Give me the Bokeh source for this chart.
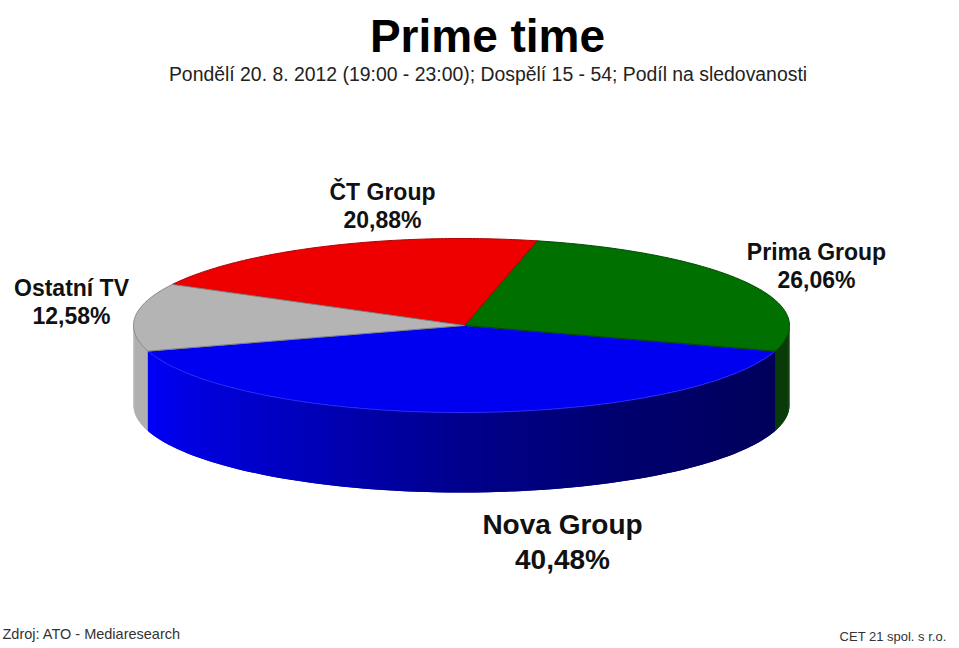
import numpy as np
from bokeh.plotting import figure
from bokeh.models import Range1d
from bokeh.core.properties import value
from bokeh.embed import file_html
from bokeh.resources import INLINE

# --- data ---
categories = ["Nova Group", "Prima Group", "ČT Group", "Ostatní TV"]
shares = [40.48, 26.06, 20.88, 12.58]
share_labels = ["40,48%", "26,06%", "20,88%", "12,58%"]
title = "Prime time"
subtitle = "Pondělí 20. 8. 2012 (19:00 - 23:00); Dospělí 15 - 54; Podíl na sledovanosti"
source_note = "Zdroj: ATO - Mediaresearch"
company_note = "CET 21 spol. s r.o."

# --- style / layout ---
top_colors = ["#0000f0", "#007000", "#ee0000", "#b4b4b4"]
edge_colors = ["#2a2af4", "#004a00", "#b00000", "#808080"]
wall_colors = {1: "#0a3c0a", 3: "#b0b0b0"}
CX, CY, RX, RY, DEPTH = 461.0, 325.0, 328.0, 87.0, 80.0
APEX_X = 464.0
GRAD_T = [180, 200, 240, 270, 300, 330, 345]
GRAD_B = [250, 245, 190, 140, 110, 95, 90]

p = figure(width=959, height=648, output_backend="svg", toolbar_location=None,
           x_range=Range1d(0, 959), y_range=Range1d(648, 0),
           min_border=0, outline_line_color=None, background_fill_color="white")
p.axis.visible = False
p.grid.visible = False

ang = np.array(shares) * 3.6
start = 270 - ang[0] / 2
edges = start + np.concatenate([[0], np.cumsum(ang)])


def pt(t, dy=0.0):
    r = np.radians(t)
    return CX + RX * np.cos(r), CY - RY * np.sin(r) + dy


# side wall: overlapping narrow quads over the visible front half
xs, ys, cols = [], [], []
for t0 in np.arange(180.0, 360.0, 1.0):
    t1 = min(t0 + 2.0, 360.0)
    mid = t0 + 0.5
    m = mid if mid >= edges[0] else mid + 360
    i = int(np.searchsorted(edges, m, side="right") - 1)
    i = min(max(i, 0), 3)
    if i == 0:
        c = "#0000%02x" % int(np.interp(mid, GRAD_T, GRAD_B))
    else:
        c = wall_colors[i]
    x0, y0 = pt(t0)
    x1, y1 = pt(t1)
    xs.append([x0, x1, x1, x0])
    ys.append([y0, y1, y1 + DEPTH, y0 + DEPTH])
    cols.append(c)
p.patches(xs, ys, fill_color=cols, line_color=None)

# top surface wedges
wx, wy = [], []
for i in range(len(shares)):
    tt = np.linspace(edges[i], edges[i + 1], 120)
    ex, ey = pt(tt)
    wx.append([APEX_X] + list(ex))
    wy.append([CY] + list(ey))
p.patches(wx, wy, fill_color=top_colors, line_color=edge_colors, line_width=1)


def label(x, y, txt, size, style="normal", color="#000000", align="center"):
    p.text(x=[x], y=[y], text=[txt], text_font=value("Liberation Sans"),
           text_font_size=size, text_font_style=style, text_color=color,
           text_align=align, text_baseline="middle")


label(487, 35, title, "46px", "bold")
label(487.5, 73, subtitle, "19.4px", "normal", "#222222")

label_pos = [(562, 524, 559, "28px"), (816, 251, 279, "23px"),
             (382, 191, 219, "23px"), (71, 287, 315, "23px")]
for c, s, (lx, y1, y2, fs) in zip(categories, share_labels, label_pos):
    label(lx, y1, c, fs, "bold", "#111111")
    label(lx, y2, s, fs, "bold", "#111111")

label(2, 633, source_note, "14.5px", "normal", "#333333", "left")
label(946, 636, company_note, "13px", "normal", "#333333", "right")

open("out.html", "w").write(file_html(p, INLINE))
